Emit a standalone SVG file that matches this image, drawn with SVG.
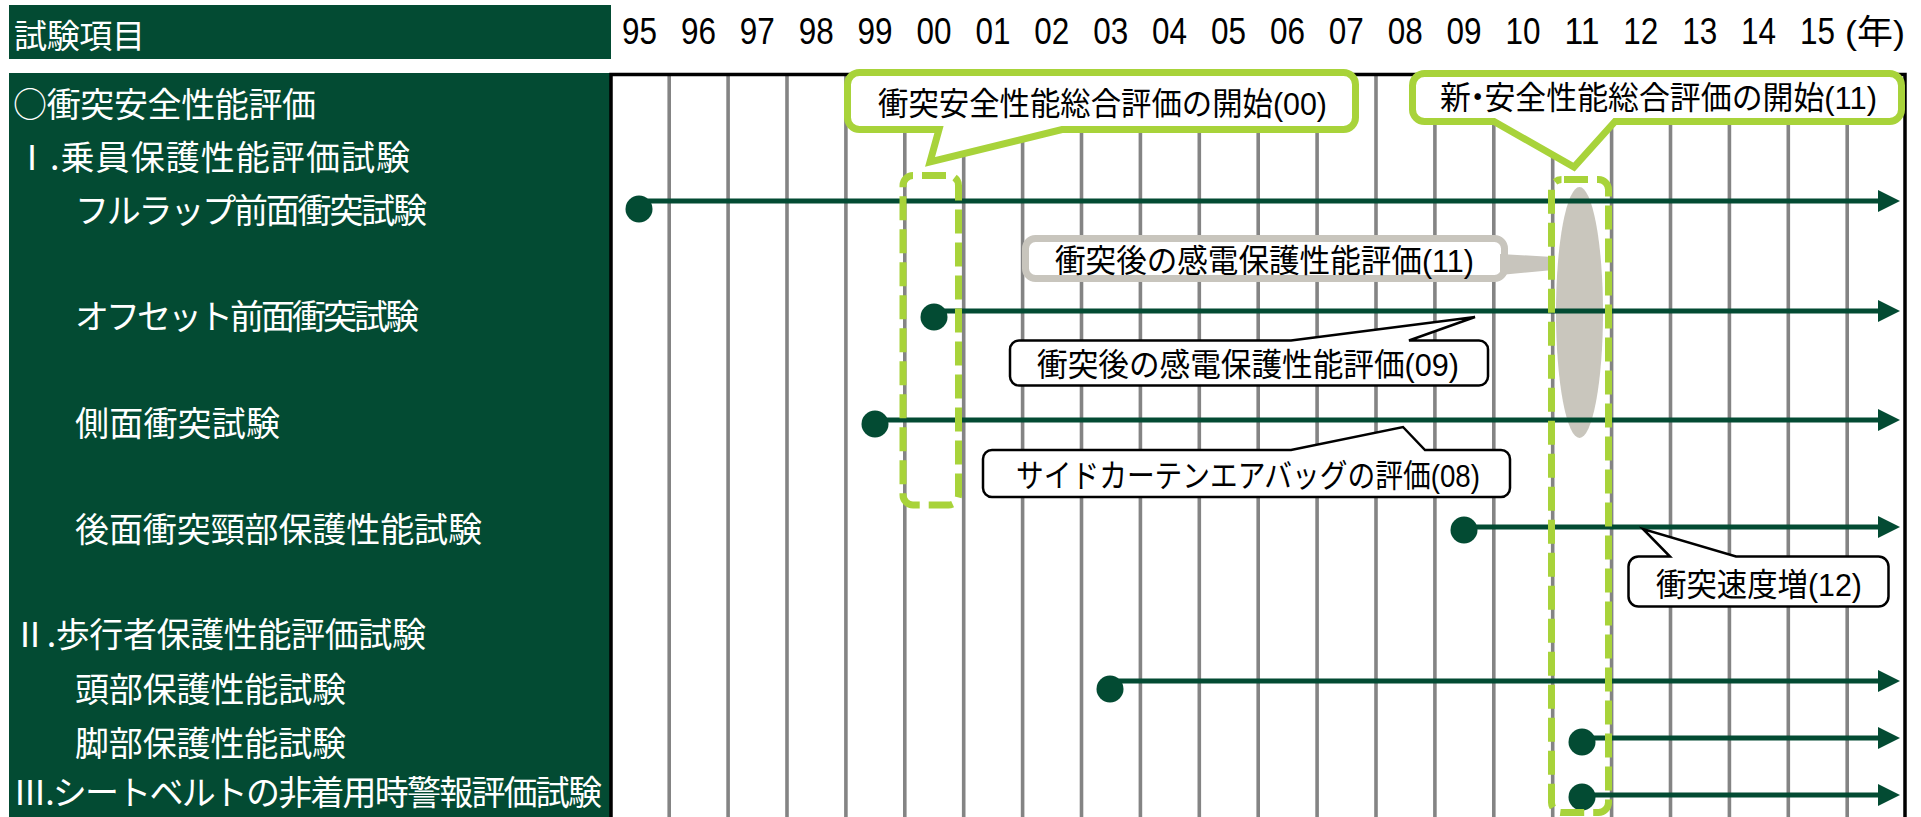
<svg xmlns="http://www.w3.org/2000/svg" width="1921" height="817" viewBox="0 0 1921 817">
<defs>
<style>
.g{fill:#034b33}
.lbl{font-family:"Noto Sans CJK JP",sans-serif;font-size:34px;fill:#fff}
.yr{font-family:"Liberation Sans",Arial,sans-serif;font-size:37px;fill:#000;text-anchor:middle}
.grid line{stroke:#848484;stroke-width:3.6}
.row{stroke:#034b33;stroke-width:5;fill:none;marker-end:url(#ah)}
.dot{fill:#034b33}
.co{font-family:"Liberation Sans","Noto Sans CJK JP",sans-serif;font-size:32px;fill:#000}
.lime{fill:#fff;stroke:#a8d33a;stroke-width:7;stroke-linejoin:miter}
.dash{fill:none;stroke:#a8d33a;stroke-width:7;stroke-dasharray:24 9}
.blk{fill:#fff;stroke:#000;stroke-width:2.5;stroke-linejoin:miter}
</style>
<marker id="ah" viewBox="0 0 22 22" refX="4" refY="11" markerWidth="22" markerHeight="22" markerUnits="userSpaceOnUse" orient="auto"><path d="M0,0 L22,11 L0,22 Z" fill="#034b33"/></marker>
</defs>
<rect width="1921" height="817" fill="#fff"/>

<g id="header">
<rect class="g" x="9" y="5" width="602" height="54"/>
<text x="14" y="48" font-family="Noto Sans CJK JP,sans-serif" font-size="33" fill="#fff" textLength="131">試験項目</text>
</g>

<g id="years">
<text class="yr" x="639.5" y="44" textLength="35" lengthAdjust="spacingAndGlyphs">95</text>
<text class="yr" x="698.4" y="44" textLength="35" lengthAdjust="spacingAndGlyphs">96</text>
<text class="yr" x="757.3" y="44" textLength="35" lengthAdjust="spacingAndGlyphs">97</text>
<text class="yr" x="816.2" y="44" textLength="35" lengthAdjust="spacingAndGlyphs">98</text>
<text class="yr" x="875.1" y="44" textLength="35" lengthAdjust="spacingAndGlyphs">99</text>
<text class="yr" x="934" y="44" textLength="35" lengthAdjust="spacingAndGlyphs">00</text>
<text class="yr" x="992.9" y="44" textLength="35" lengthAdjust="spacingAndGlyphs">01</text>
<text class="yr" x="1051.8" y="44" textLength="35" lengthAdjust="spacingAndGlyphs">02</text>
<text class="yr" x="1110.7" y="44" textLength="35" lengthAdjust="spacingAndGlyphs">03</text>
<text class="yr" x="1169.6" y="44" textLength="35" lengthAdjust="spacingAndGlyphs">04</text>
<text class="yr" x="1228.5" y="44" textLength="35" lengthAdjust="spacingAndGlyphs">05</text>
<text class="yr" x="1287.4" y="44" textLength="35" lengthAdjust="spacingAndGlyphs">06</text>
<text class="yr" x="1346.3" y="44" textLength="35" lengthAdjust="spacingAndGlyphs">07</text>
<text class="yr" x="1405.2" y="44" textLength="35" lengthAdjust="spacingAndGlyphs">08</text>
<text class="yr" x="1464.1" y="44" textLength="35" lengthAdjust="spacingAndGlyphs">09</text>
<text class="yr" x="1523" y="44" textLength="35" lengthAdjust="spacingAndGlyphs">10</text>
<text class="yr" x="1581.9" y="44" textLength="35" lengthAdjust="spacingAndGlyphs">11</text>
<text class="yr" x="1640.8" y="44" textLength="35" lengthAdjust="spacingAndGlyphs">12</text>
<text class="yr" x="1699.7" y="44" textLength="35" lengthAdjust="spacingAndGlyphs">13</text>
<text class="yr" x="1758.6" y="44" textLength="35" lengthAdjust="spacingAndGlyphs">14</text>
<text class="yr" x="1817.5" y="44" textLength="35" lengthAdjust="spacingAndGlyphs">15</text>
<text x="1845" y="44" font-family="Liberation Sans,Noto Sans CJK JP,sans-serif" font-size="34" textLength="60" lengthAdjust="spacingAndGlyphs">(年)</text>
</g>

<g id="items">
<rect class="g" x="9" y="73" width="601" height="744"/>
<text class="lbl" x="13" y="117" textLength="303">○衝突安全性能評価</text>
<text class="lbl" x="15" y="170" textLength="395">Ⅰ.乗員保護性能評価試験</text>
<text class="lbl" x="75" y="223" textLength="352">フルラップ前面衝突試験</text>
<text class="lbl" x="75" y="329" textLength="344">オフセット前面衝突試験</text>
<text class="lbl" x="75" y="436" textLength="205">側面衝突試験</text>
<text class="lbl" x="75" y="542" textLength="407">後面衝突頸部保護性能試験</text>
<text class="lbl" x="13" y="647" textLength="413">Ⅱ.歩行者保護性能評価試験</text>
<text class="lbl" x="75" y="702" textLength="271">頭部保護性能試験</text>
<text class="lbl" x="75" y="756" textLength="271">脚部保護性能試験</text>
<text class="lbl" x="13" y="805" textLength="589">Ⅲ.シートベルトの非着用時警報評価試験</text>
</g>

<g id="chart">
<g class="grid">
<line x1="669.2" y1="76" x2="669.2" y2="817"/>
<line x1="728.1" y1="76" x2="728.1" y2="817"/>
<line x1="787" y1="76" x2="787" y2="817"/>
<line x1="845.9" y1="76" x2="845.9" y2="817"/>
<line x1="904.8" y1="76" x2="904.8" y2="817"/>
<line x1="963.7" y1="76" x2="963.7" y2="817"/>
<line x1="1022.6" y1="76" x2="1022.6" y2="817"/>
<line x1="1081.5" y1="76" x2="1081.5" y2="817"/>
<line x1="1140.4" y1="76" x2="1140.4" y2="817"/>
<line x1="1199.3" y1="76" x2="1199.3" y2="817"/>
<line x1="1258.2" y1="76" x2="1258.2" y2="817"/>
<line x1="1317.1" y1="76" x2="1317.1" y2="817"/>
<line x1="1376" y1="76" x2="1376" y2="817"/>
<line x1="1434.9" y1="76" x2="1434.9" y2="817"/>
<line x1="1493.8" y1="76" x2="1493.8" y2="817"/>
<line x1="1552.7" y1="76" x2="1552.7" y2="817"/>
<line x1="1611.6" y1="76" x2="1611.6" y2="817"/>
<line x1="1670.5" y1="76" x2="1670.5" y2="817"/>
<line x1="1729.4" y1="76" x2="1729.4" y2="817"/>
<line x1="1788.3" y1="76" x2="1788.3" y2="817"/>
<line x1="1847.2" y1="76" x2="1847.2" y2="817"/>
</g>
<path d="M611,817 V74.5 H1905 V817" fill="none" stroke="#000" stroke-width="3.5"/>
</g>

<g id="ev11">
<ellipse cx="1579.5" cy="312.5" rx="23.5" ry="125.5" fill="#c9c6bd"/>
</g>

<g id="connectors">
<line class="row" x1="639" y1="201" x2="1882" y2="201"/>
<line class="row" x1="934" y1="311" x2="1882" y2="311"/>
<line class="row" x1="875" y1="420" x2="1882" y2="420"/>
<line class="row" x1="1464" y1="527" x2="1882" y2="527"/>
<line class="row" x1="1110" y1="681" x2="1882" y2="681"/>
<line class="row" x1="1582" y1="738" x2="1882" y2="738"/>
<line class="row" x1="1582" y1="795" x2="1882" y2="795"/>
</g>

<g id="dots">
<circle class="dot" cx="639" cy="209" r="13.5"/>
<circle class="dot" cx="934" cy="317" r="13.5"/>
<circle class="dot" cx="875" cy="424" r="13.5"/>
<circle class="dot" cx="1464" cy="530" r="13.5"/>
<circle class="dot" cx="1110" cy="689" r="13.5"/>
<circle class="dot" cx="1582" cy="742" r="13.5"/>
<circle class="dot" cx="1582" cy="797" r="13.5"/>
</g>

<g id="callout-00">
<path class="lime" d="M859.5,72.5 H1343.5 A12,12 0 0 1 1355.5,84.5 V117.5 A12,12 0 0 1 1343.5,129.5 H1062 L930,162 L939,129.5 H859.5 A12,12 0 0 1 847.5,117.5 V84.5 A12,12 0 0 1 859.5,72.5 Z"/>
<text class="co" x="878" y="115" textLength="449" lengthAdjust="spacingAndGlyphs">衝突安全性能総合評価の開始(00)</text>
</g>

<g id="callout-11">
<path class="lime" d="M1424.5,73.5 H1889.5 A12,12 0 0 1 1901.5,85.5 V109.5 A12,12 0 0 1 1889.5,121.5 H1615 L1574,167 L1494,121.5 H1424.5 A12,12 0 0 1 1412.5,109.5 V85.5 A12,12 0 0 1 1424.5,73.5 Z"/>
<text class="co" x="1440" y="109" dx="0 -9 -9" textLength="437" lengthAdjust="spacingAndGlyphs">新・安全性能総合評価の開始(11)</text>
</g>

<g id="callout-shock11">
<rect x="1025.5" y="238.5" width="479" height="40" rx="10" fill="#fff" stroke="#c8c5bd" stroke-width="7"/>
<polygon points="1500,254 1553,257 1553,270 1500,275" fill="#c8c5bd"/>
<text class="co" x="1055" y="272" textLength="419" lengthAdjust="spacingAndGlyphs">衝突後の感電保護性能評価(11)</text>
</g>

<g id="callout-shock09">
<path class="blk" d="M1019,340.5 H1291 L1475,317 L1409,340.5 H1479 A9,9 0 0 1 1488,349.5 V376.5 A9,9 0 0 1 1479,385.5 H1019 A9,9 0 0 1 1010,376.5 V349.5 A9,9 0 0 1 1019,340.5 Z"/>
<text class="co" x="1037" y="376" textLength="422" lengthAdjust="spacingAndGlyphs">衝突後の感電保護性能評価(09)</text>
</g>

<g id="callout-airbag08">
<path class="blk" d="M992,450 H1291 L1403,427 L1425,450 H1501 A9,9 0 0 1 1510,459 V488 A9,9 0 0 1 1501,497 H992 A9,9 0 0 1 983,488 V459 A9,9 0 0 1 992,450 Z"/>
<text class="co" x="1016" y="487" textLength="464" lengthAdjust="spacingAndGlyphs">サイドカーテンエアバッグの評価(08)</text>
</g>

<g id="callout-speed12">
<path class="blk" d="M1638.5,556.5 H1670 L1643,529 L1736,556.5 H1878.5 A10,10 0 0 1 1888.5,566.5 V596.5 A10,10 0 0 1 1878.5,606.5 H1638.5 A10,10 0 0 1 1628.5,596.5 V566.5 A10,10 0 0 1 1638.5,556.5 Z"/>
<text class="co" x="1656" y="596" textLength="206" lengthAdjust="spacingAndGlyphs">衝突速度増(12)</text>
</g>

<g id="frame-00">
<rect class="dash" x="903" y="175.5" width="55.5" height="329.5" rx="10" stroke-dashoffset="-9"/>
</g>
<g id="frame-11">
<rect class="dash" x="1551.5" y="179.5" width="57" height="633" rx="10" stroke-dashoffset="-2.5"/>
</g>
</svg>
